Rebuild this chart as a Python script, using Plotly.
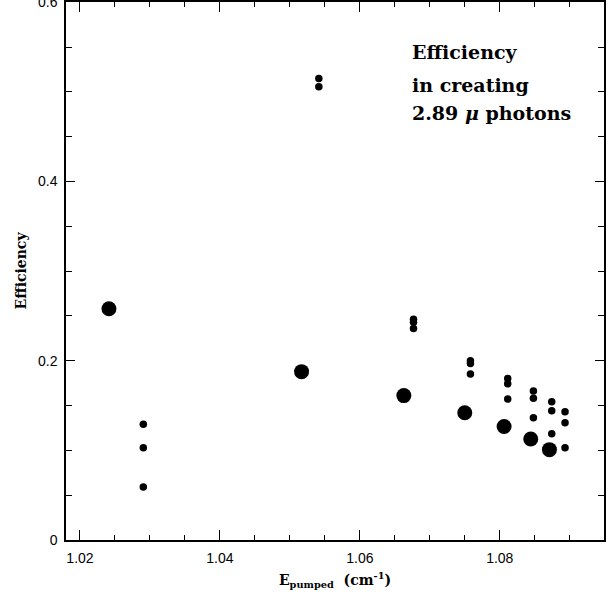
import plotly.graph_objects as go

# Large markers
big_x = [1.02414, 1.05167, 1.06629, 1.07500, 1.08062, 1.08443, 1.08710]
big_y = [0.258, 0.1878, 0.1611, 0.1419, 0.1267, 0.1126, 0.1008]

# Small markers
small_x = [1.02905, 1.02905, 1.02905,
           1.05414, 1.05414,
           1.06767, 1.06767, 1.06767,
           1.07581, 1.07581, 1.07581,
           1.08114, 1.08114, 1.08114,
           1.08481, 1.08481, 1.08481,
           1.08743, 1.08743, 1.08743,
           1.08933, 1.08933, 1.08933]
small_y = [0.129, 0.103, 0.059,
           0.5148, 0.5056,
           0.2463, 0.2428, 0.2359,
           0.200, 0.197, 0.1852,
           0.1803, 0.1744, 0.1574,
           0.1663, 0.1581, 0.1363,
           0.1541, 0.1441, 0.1185,
           0.143, 0.1308, 0.103]

x_ticks = [1.02, 1.04, 1.06, 1.08]
x_tick_labels = ["1.02", "1.04", "1.06", "1.08"]
y_ticks = [0, 0.2, 0.4, 0.6]
y_tick_labels = ["0", "0.2", "0.4", "0.6"]

note_lines = ["Efficiency", "in creating", "2.89 <i>μ</i> photons"]
note_y = [0.5444, 0.5081, 0.4759]

fig = go.Figure()
fig.add_trace(go.Scatter(x=small_x, y=small_y, mode="markers",
                         marker=dict(size=7.5, color="black"), showlegend=False))
fig.add_trace(go.Scatter(x=big_x, y=big_y, mode="markers",
                         marker=dict(size=15, color="black"), showlegend=False))

for t, yy in zip(note_lines, note_y):
    fig.add_annotation(x=1.0671, y=yy, xref="x", yref="y", text=f"<b>{t}</b>",
                       showarrow=False, xanchor="left", yanchor="middle",
                       font=dict(family="DejaVu Serif", size=19, color="black"))

axis_common = dict(showline=True, linecolor="black", linewidth=1.5, mirror="allticks",
                   ticks="inside", tickcolor="black", tickwidth=1, showgrid=False,
                   zeroline=False, automargin=False, ticklabeloverflow="allow",
                   tickfont=dict(family="Liberation Sans", size=14, color="black"))

fig.update_xaxes(range=[1.018, 1.0949], tickvals=x_ticks, ticktext=x_tick_labels, ticklen=10,
                 minor=dict(dtick=0.005, tick0=1.0, ticks="inside", ticklen=5, tickcolor="black", showgrid=False),
                 ticklabelstandoff=4,
                 title=dict(text="<b>E<sub>pumped</sub>  (cm<sup>-1</sup>)</b>", standoff=11,
                            font=dict(family="DejaVu Serif", size=14, color="black")),
                 **axis_common)
fig.update_yaxes(range=[0, 0.6002], tickvals=y_ticks, ticktext=y_tick_labels, ticklen=9,
                 minor=dict(dtick=0.05, tick0=0, ticks="inside", ticklen=6, tickcolor="black", showgrid=False),
                 ticklabelstandoff=4,
                 title=dict(text="<b>Efficiency</b>", standoff=8,
                            font=dict(family="DejaVu Serif", size=14, color="black")),
                 **axis_common)

fig.update_layout(width=610, height=594, plot_bgcolor="white", paper_bgcolor="white",
                  margin=dict(l=66, r=6, t=2, b=54), showlegend=False)

fig.write_html("out.html", config={"displayModeBar": False},
               post_script="document.body.style.margin='0';document.body.style.overflow='hidden';")
